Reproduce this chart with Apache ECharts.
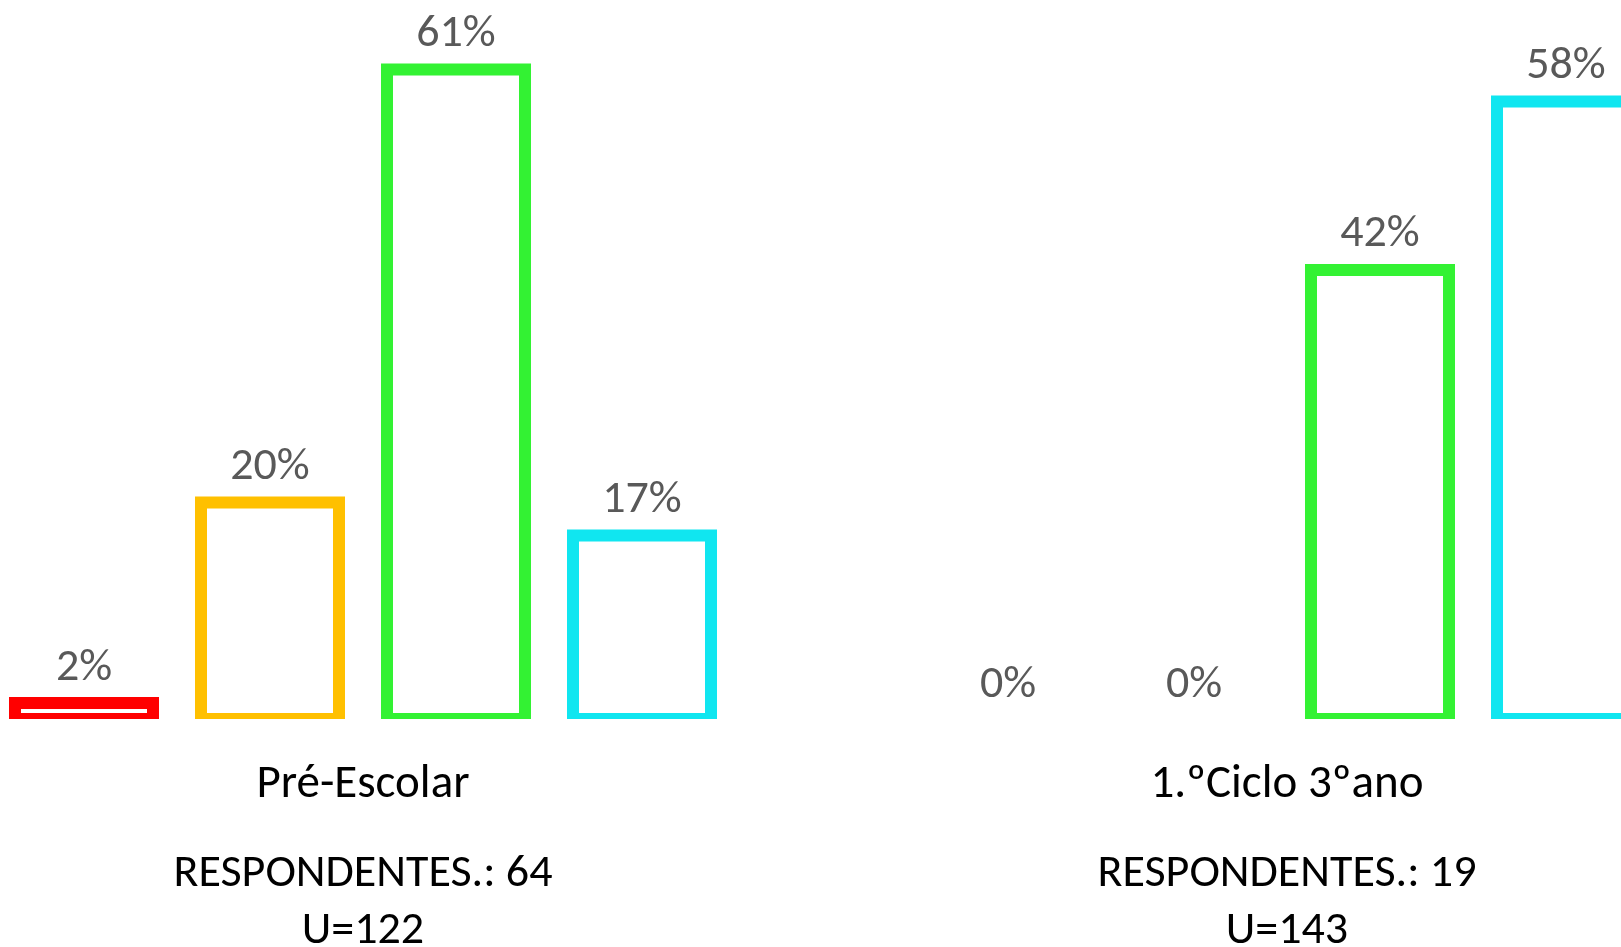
<!DOCTYPE html>
<html>
<head>
<meta charset="utf-8">
<script src="https://cdn.jsdelivr.net/npm/echarts@6/dist/echarts.min.js"></script>
<style>
  html, body { margin: 0; padding: 0; background: #ffffff; }
  #chart { width: 1621px; height: 947px; }
</style>
</head>
<body>
<div id="chart"></div>
<script>
// ---- data ----
const categories = ['Pré-Escolar', '1.ºCiclo 3ºano'];
const respondentLines = ['RESPONDENTES.: 64', 'RESPONDENTES.: 19'];
const uLines = ['U=122', 'U=143'];
const seriesNames = ['S1', 'S2', 'S3', 'S4'];
const seriesColors = ['#FF0000', '#FFC000', '#33F233', '#10E6F0'];
const s1Values = [1.5, 0];
const s2Values = [20.3, 0];
const s3Values = [60.9, 42.1];
const s4Values = [17.2, 57.9];
const allValues = [s1Values, s2Values, s3Values, s4Values];

const FONT = 'Carlito, Lato, sans-serif';
const BAR_STEP = 186 / 924;   // bar spacing as a fraction of the category band
const BAR_WIDTH = 138 / 924;  // bar width as a fraction of the category band
const BORDER = 12;

const chart = echarts.init(document.getElementById('chart'), null, { renderer: 'canvas' });

const series = allValues.map((vals, i) => ({
  name: seriesNames[i],
  type: 'custom',
  coordinateSystem: 'cartesian2d',
  clip: true,
  encode: { x: 0, y: 1 },
  data: vals.map((v, j) => [j, v]),
  renderItem: (params, api) => {
    const catIdx = api.value(0);
    const v = api.value(1);
    const base = api.coord([catIdx, 0]);
    const topPt = api.coord([catIdx, v]);
    const bw = api.size([1, 0])[0];
    const cx = base[0] + (i - 1.5) * BAR_STEP * bw;
    const w = BAR_WIDTH * bw;
    const hasBar = v > 0;
    return {
      type: 'rect',
      shape: { x: cx - w / 2, y: topPt[1], width: w, height: base[1] - topPt[1] },
      style: {
        fill: '#ffffff',
        stroke: hasBar ? seriesColors[i] : null,
        lineWidth: hasBar ? BORDER : 0
      },
      textContent: {
        style: {
          text: Math.round(v) + '%',
          fill: '#595959',
          fontSize: 46,
          fontFamily: FONT
        }
      },
      textConfig: { position: 'top', distance: hasBar ? 6 : 11 }
    };
  },
  emphasis: { disabled: true },
  animation: false
}));

chart.setOption({
  animation: false,
  backgroundColor: '#ffffff',
  grid: {
    left: -99,
    right: -128,
    top: -27.6,
    bottom: 228,
    containLabel: false,
    outerBoundsMode: 'none'
  },
  xAxis: {
    type: 'category',
    data: categories,
    offset: 6,
    axisLine: { show: false },
    axisTick: { show: false },
    splitLine: { show: false },
    axisLabel: {
      interval: 0,
      margin: 0,
      fontFamily: FONT,
      color: '#000000',
      formatter: (val, idx) => '{a|' + val + '}\n{b|' + respondentLines[idx] + '}\n{b|' + uLines[idx] + '}',
      rich: {
        a: { fontFamily: FONT, fontSize: 47, lineHeight: 121, color: '#000000' },
        b: { fontFamily: FONT, fontSize: 46, lineHeight: 57, color: '#000000' }
      }
    }
  },
  yAxis: {
    type: 'value',
    min: 0,
    max: 70,
    show: false
  },
  series: series
});
</script>
</body>
</html>
